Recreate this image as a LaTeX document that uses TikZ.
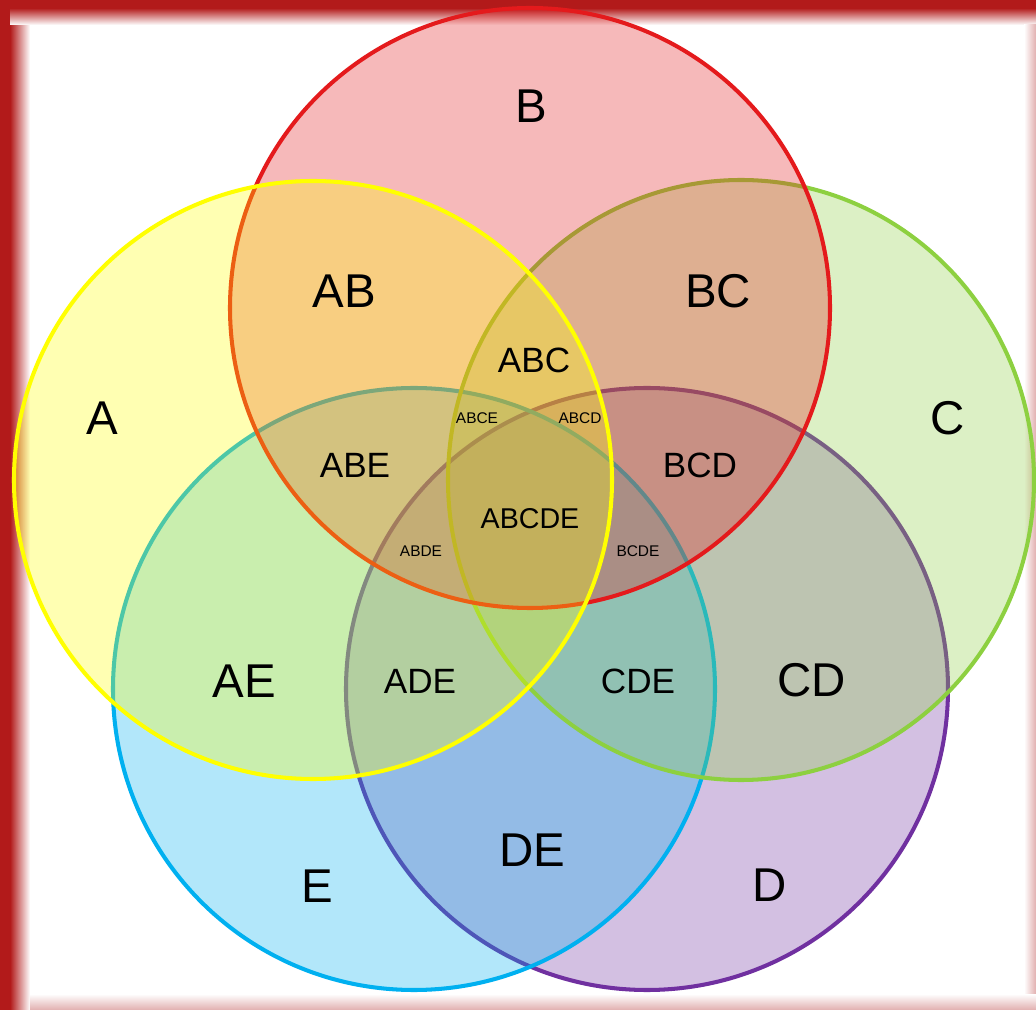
\documentclass[tikz,border=0pt]{standalone}
\usepackage{fontspec}
\setmainfont{Liberation Sans}
\definecolor{cA}{RGB}{255,255,0}
\definecolor{cB}{RGB}{228,26,28}
\definecolor{cC}{RGB}{141,208,64}
\definecolor{cD}{RGB}{112,48,160}
\definecolor{cE}{RGB}{0,176,240}
\definecolor{frame}{RGB}{178,26,26}
\definecolor{framelt}{RGB}{225,175,175}
\tikzset{
  setcircle/.style={line width=2.3pt, fill opacity=0.3, draw opacity=1},
  biglbl/.style={font=\fontsize{27}{27}\selectfont, inner sep=0pt},
  midlbl/.style={font=\fontsize{20}{20}\selectfont, inner sep=0pt},
  cenlbl/.style={font=\fontsize{16.3}{16.3}\selectfont, inner sep=0pt},
  smalllbl/.style={font=\fontsize{8.8}{8.8}\selectfont, inner sep=0pt}
}
\begin{document}
\begin{tikzpicture}[x=0.02cm,y=-0.02cm]
\useasboundingbox (0,0) rectangle (1036,1010);
\fill[white] (0,0) rectangle (1036,1010);
% frame
\shade[left color=frame, right color=white] (10,10) rectangle (30,1010);
\shade[top color=frame, bottom color=white] (10,8) rectangle (1036,25);
\shade[left color=white, right color=framelt] (1024,25) rectangle (1036,1010);
\shade[top color=white, bottom color=framelt] (30,994) rectangle (1036,1010);
\fill[frame] (0,0) rectangle (1036,8);
\fill[frame] (0,0) rectangle (10,1010);
% circles, bottom to top
\draw[setcircle, draw=cD, fill=cD] (647,689) circle[radius=301];
\draw[setcircle, draw=cE, fill=cE] (414,689) circle[radius=301];
\draw[setcircle, draw=cC, fill=cC] (741,480) ellipse[x radius=293, y radius=300];
\draw[setcircle, draw=cB, fill=cB] (530,308) circle[radius=300];
\draw[setcircle, draw=cA, fill=cA] (313,480) circle[radius=299];
% labels
\node[biglbl] (lA) at (102,418) {A};
\node[biglbl] (lB) at (531,106) {B};
\node[biglbl] (lC) at (948,418) {C};
\node[biglbl] (lD) at (770,885) {D};
\node[biglbl] (lE) at (317,886) {E};
\node[biglbl] (lAB) at (344,291) {AB};
\node[biglbl] (lBC) at (718,291) {BC};
\node[biglbl] (lAE) at (244,681) {AE};
\node[biglbl] (lCD) at (812,680) {CD};
\node[biglbl] (lDE) at (532,850) {DE};
\node[midlbl] (lABC) at (534,360) {ABC};
\node[midlbl] (lABE) at (355,465) {ABE};
\node[midlbl] (lBCD) at (700,465) {BCD};
\node[midlbl] (lADE) at (420,681) {ADE};
\node[midlbl] (lCDE) at (638,681) {CDE};
\node[cenlbl] (lABCDE) at (530,519) {ABCDE};
\node[smalllbl] (lABCE) at (477,418) {ABCE};
\node[smalllbl] (lABCD) at (580,418) {ABCD};
\node[smalllbl] (lABDE) at (421,551) {ABDE};
\node[smalllbl] (lBCDE) at (638,551) {BCDE};
\end{tikzpicture}
\end{document}
